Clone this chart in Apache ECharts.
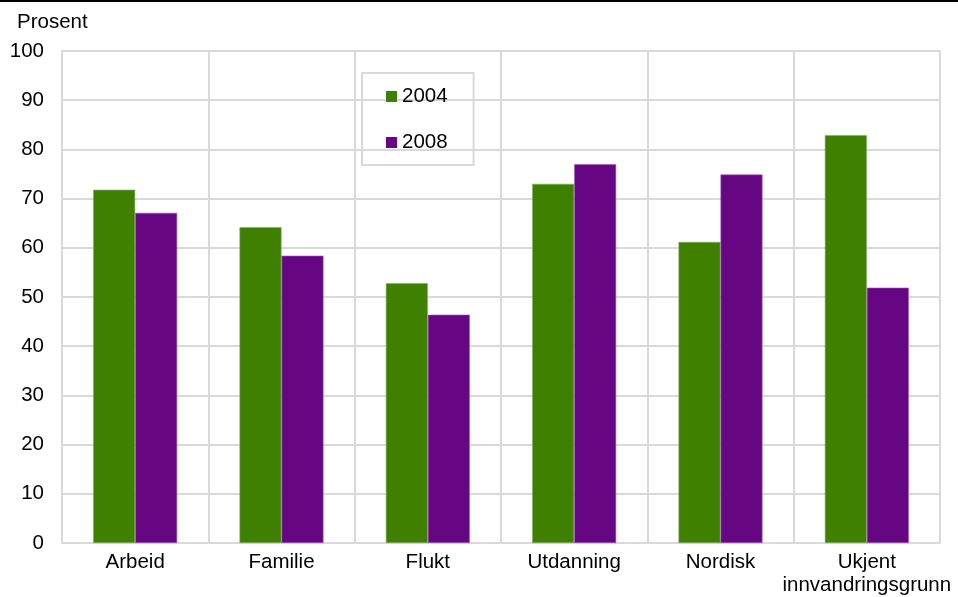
<!DOCTYPE html>
<html><head><meta charset="utf-8">
<script src="https://cdn.jsdelivr.net/npm/echarts@6/dist/echarts.min.js"></script>
<style>html,body{margin:0;padding:0;background:#fff}#c{width:958px;height:597px}</style>
</head><body><div id="c"></div>
<script>
var categories = ['Arbeid', 'Familie', 'Flukt', 'Utdanning', 'Nordisk', 'Ukjent\ninnvandringsgrunn'];
var values2004 = [71.8, 64.2, 52.8, 73.0, 61.2, 82.9];
var values2008 = [67.1, 58.4, 46.4, 77.0, 74.9, 51.9];
var yTicks = [0, 10, 20, 30, 40, 50, 60, 70, 80, 90, 100];

var chart = echarts.init(document.getElementById('c'));
var font = 'Liberation Sans, Arial, sans-serif';
var fs = 20.5;
var grid = '#d9d9d9';
chart.setOption({
  animation: false,
  textStyle: { fontFamily: font },
  graphic: [
    { type: 'rect', shape: { x: 0, y: 0, width: 958, height: 2 }, style: { fill: '#000' } },
    { type: 'text', left: 17, top: 12, style: { text: 'Prosent', font: fs + 'px ' + font, fill: '#000' } }
  ],
  grid: { left: 62, right: 18, top: 51, bottom: 54, containLabel: false },
  legend: {
    orient: 'vertical', left: 362, top: 73,
    padding: [13, 26, 12, 24],
    borderColor: grid, borderWidth: 2,
    itemWidth: 11, itemHeight: 11, itemGap: 25,
    icon: 'rect',
    itemStyle: { borderWidth: 0 },
    textStyle: { fontSize: fs, color: '#000', fontFamily: font, lineHeight: 20 },
    data: ['2004', '2008']
  },
  xAxis: {
    type: 'category', data: categories,
    axisLine: { lineStyle: { color: grid, width: 2 } },
    axisTick: { show: false },
    splitLine: { show: true, interval: 0, lineStyle: { color: grid, width: 2 } },
    axisLabel: { interval: 0, fontSize: fs, color: '#000', fontFamily: font, lineHeight: 23, margin: 8 }
  },
  yAxis: {
    type: 'value', min: 0, max: 100, interval: 10,
    axisLine: { show: true, lineStyle: { color: grid, width: 2 } },
    axisTick: { show: false },
    splitLine: { show: true, lineStyle: { color: grid, width: 2 } },
    axisLabel: { fontSize: fs, color: '#000', fontFamily: font, margin: 18,
      formatter: function (v) { return yTicks.indexOf(v) >= 0 ? String(v) : ''; } }
  },
  series: [
    { name: '2004', type: 'bar', data: values2004, barGap: '0%', barCategoryGap: '42.6%',
      itemStyle: { color: '#3f8000', borderColor: '#7fb060', borderWidth: 0.6 } },
    { name: '2008', type: 'bar', data: values2008, barGap: '0%', barCategoryGap: '42.6%',
      itemStyle: { color: '#670683', borderColor: '#a060b8', borderWidth: 0.6 } }
  ]
});
</script></body></html>
